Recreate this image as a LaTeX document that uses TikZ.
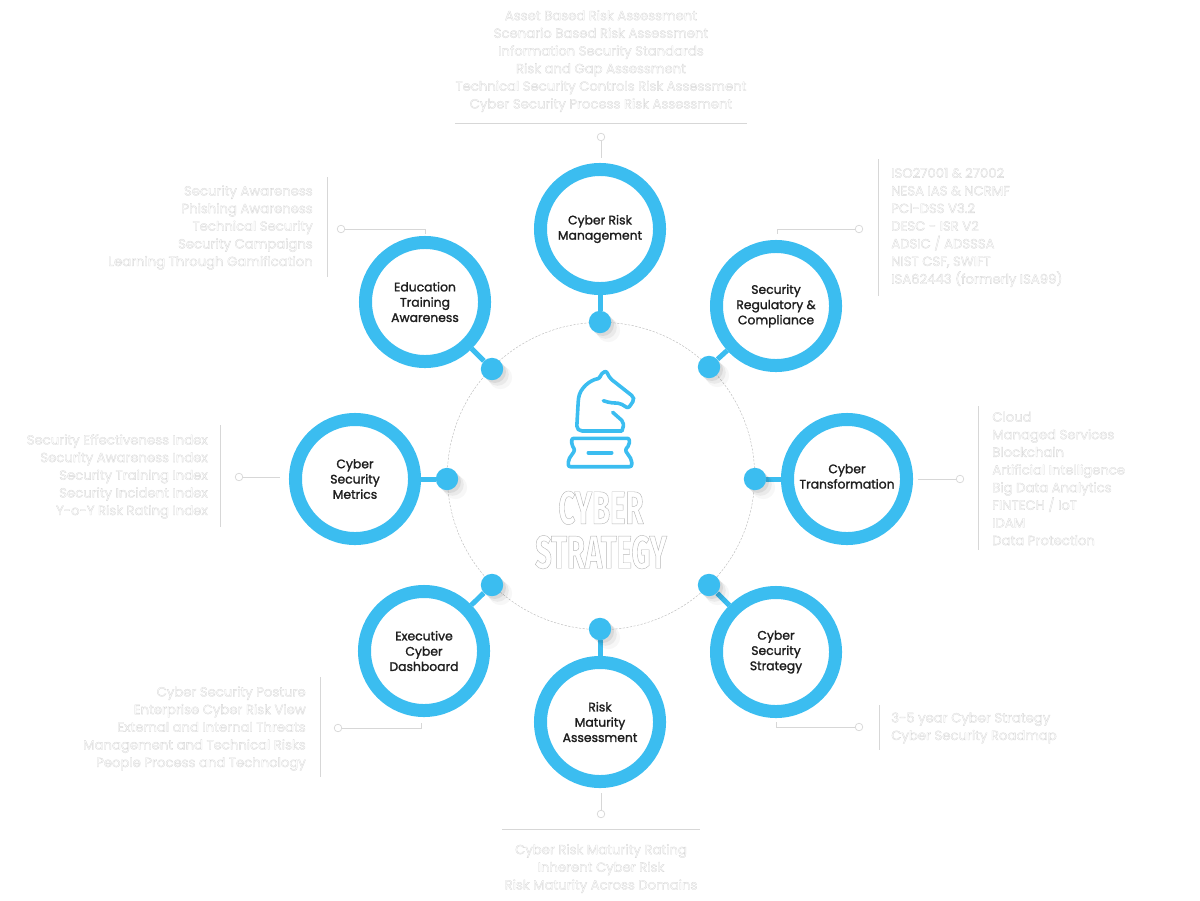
\documentclass[tikz,border=0pt]{standalone}
\usepackage{fontspec}
\setmainfont{Poppins}
\newfontfamily\titlefont[FakeStretch=0.63]{Fira Sans}
\usetikzlibrary{shapes.geometric, arrows.meta, positioning, calc, backgrounds, shadows}
\usepackage{xcolor}
\definecolor{hubblue}{RGB}{59,189,240}
\definecolor{hubtext}{RGB}{30,30,30}
\definecolor{leadgray}{RGB}{215,215,215}
% White text with a thin pale outline
\newcommand{\halotext}{\special{pdf:code q 2 Tr 0.22 w 0.84 0.84 0.84 RG}}
\newcommand{\haloend}{\special{pdf:code Q}}
% Slightly heavier ring labels
\newcommand{\hubweight}{\special{pdf:code q 2 Tr 0.14 w 0.12 0.12 0.12 RG}}
\tikzset{
  % Ring with the topic name
  hub/.style={
    circle, draw=hubblue, fill=white, line width=0.325cm, minimum size=2.975cm,
    inner sep=0pt, align=center, text=hubtext, font=\fontsize{8.8}{10.85}\selectfont
  },
  % Dot on the dashed orbit
  hubdot/.style={
    circle, fill=hubblue, minimum size=0.56cm, inner sep=0pt,
    drop shadow={shadow xshift=0.2cm, shadow yshift=-0.2cm, shadow scale=1.05, opacity=0.03, fill=black},
    drop shadow={shadow xshift=0.14cm, shadow yshift=-0.14cm, opacity=0.05, fill=black},
    drop shadow={shadow xshift=0.07cm, shadow yshift=-0.07cm, opacity=0.07, fill=black}
  },
  stem/.style={hubblue, line width=0.125cm},
  orbit/.style={
    circle, draw=gray!55, line width=0.3pt, dash pattern=on 1.6pt off 1pt,
    minimum size=7.68cm, inner sep=0pt
  },
  pin/.style={circle, draw=leadgray, fill=white, line width=0.5pt, minimum size=0.19cm, inner sep=0pt},
  leader/.style={leadgray, line width=0.7pt},
  rulebar/.style={leadgray, line width=0.6pt},
  itemlist/.style={
    inner sep=0pt, text=white, align=#1, font=\fontsize{9.4}{12.55}\selectfont
  },
  icon/.style={hubblue, line width=0.09cm, line join=round, line cap=round, rounded corners=1.5pt}
}
\begin{document}
\begin{tikzpicture}[x=0.025cm, y=-0.025cm]
  \useasboundingbox (0,0) rectangle (1200,900);

  % Dashed orbit
  \node[orbit] (centerorbit) at (601,476) {};

  % Rings
  \node[hub] (riskhub) at (600,229) {\hubweight Cyber Risk\\Management\haloend};
  \node[hub] (reghub) at (776,306) {\hubweight Security\\Regulatory \&\\Compliance\haloend};
  \node[hub] (transhub) at (847,479) {\hubweight Cyber\\Transformation\haloend\\[-7pt]\mbox{}};
  \node[hub] (strathub) at (776,652) {\hubweight Cyber\\Security\\Strategy\haloend};
  \node[hub] (maturityhub) at (600,722) {\hubweight Risk\\Maturity\\Assessment\haloend};
  \node[hub] (exechub) at (424,651) {\hubweight Executive\\Cyber\\Dashboard\haloend};
  \node[hub] (metricshub) at (355,479) {\hubweight Cyber\\Security\\Metrics\haloend};
  \node[hub] (eduhub) at (425,302) {\hubweight Education\\Training\\Awareness\haloend};

  % Dots
  \node[hubdot] (riskdot) at (600,322) {};
  \node[hubdot] (regdot) at (709,367) {};
  \node[hubdot] (transdot) at (755,479) {};
  \node[hubdot] (stratdot) at (709,585) {};
  \node[hubdot] (maturitydot) at (600,629) {};
  \node[hubdot] (execdot) at (492,585) {};
  \node[hubdot] (metricsdot) at (447,479) {};
  \node[hubdot] (edudot) at (492,369) {};

  % Stems
  \begin{scope}[on background layer]
    \draw[stem] (riskhub) -- (riskdot);
    \draw[stem] (reghub) -- (regdot);
    \draw[stem] (transhub) -- (transdot);
    \draw[stem] (strathub) -- (stratdot);
    \draw[stem] (maturityhub) -- (maturitydot);
    \draw[stem] (exechub) -- (execdot);
    \draw[stem] (metricshub) -- (metricsdot);
    \draw[stem] (eduhub) -- (edudot);
  \end{scope}

  % Leaders
  \node[pin] (riskpin) at (601,137) {};
  \node[pin] (regpin) at (859,229) {};
  \node[pin] (transpin) at (960,479) {};
  \node[pin] (stratpin) at (859,727) {};
  \node[pin] (maturitypin) at (601,814) {};
  \node[pin] (execpin) at (338,728) {};
  \node[pin] (metricspin) at (239,477) {};
  \node[pin] (edupin) at (341,229) {};

  \coordinate (riskend) at (601,158);
  \coordinate (regknee) at (777,229);
  \coordinate (regend) at (777,234);
  \coordinate (transend) at (918,479);
  \coordinate (stratknee) at (776,727);
  \coordinate (stratend) at (776,722);
  \coordinate (maturityend) at (601,793);
  \coordinate (execknee) at (421,728);
  \coordinate (execend) at (421,723);
  \coordinate (metricsend) at (280,477);
  \coordinate (eduknee) at (425,229);
  \coordinate (eduend) at (425,234);

  \draw[leader] (riskpin) -- (riskend);
  \draw[leader] (regpin) -- (regknee) -- (regend);
  \draw[leader] (transpin) -- (transend);
  \draw[leader] (stratpin) -- (stratknee) -- (stratend);
  \draw[leader] (maturitypin) -- (maturityend);
  \draw[leader] (execpin) -- (execknee) -- (execend);
  \draw[leader] (metricspin) -- (metricsend);
  \draw[leader] (edupin) -- (eduknee) -- (eduend);

  % Bars beside the lists
  \draw[rulebar] (455,123) -- (747,123);
  \draw[rulebar] (878,159) -- (878,296);
  \draw[rulebar] (978,406) -- (978,550);
  \draw[rulebar] (879,705) -- (879,750);
  \draw[rulebar] (502,829) -- (700,829);
  \draw[rulebar] (320,677) -- (320,777);
  \draw[rulebar] (220,425) -- (220,527);
  \draw[rulebar] (327,177) -- (327,277);

  % Lists
  \node[itemlist=center] (risklist) at (601,61) {\halotext Asset Based Risk Assessment\\Scenario Based Risk Assessment\\Information Security Standards\\Risk and Gap Assessment\\Technical Security Controls Risk Assessment\\Cyber Security Process Risk Assessment\haloend};
  \node[itemlist=left, anchor=west] (reglist) at (891,227.5) {\halotext ISO27001 \& 27002\\NESA IAS \& NCRMF\\PCI-DSS V3.2\\DESC - ISR V2\\ADSIC / ADSSSA\\NIST CSF, SWIFT\\ISA62443 (formerly ISA99)\haloend};
  \node[itemlist=left, anchor=west] (translist) at (992,478.5) {\halotext Cloud\\Managed Services\\Blockchain\\Artificial Intelligence\\Big Data Analytics\\FINTECH / IoT\\IDAM\\Data Protection\haloend};
  \node[itemlist=left, anchor=west] (stratlist) at (891,728) {\halotext 3-5 year Cyber Strategy\\Cyber Security Roadmap\haloend};
  \node[itemlist=center] (maturitylist) at (601,868.5) {\halotext Cyber Risk Maturity Rating\\Inherent Cyber Risk\\Risk Maturity Across Domains\haloend};
  \node[itemlist=right, anchor=east] (execlist) at (306,728.5) {\halotext Cyber Security Posture\\Enterprise Cyber Risk View\\External and Internal Threats\\Management and Technical Risks\\People Process and Technology\haloend};
  \node[itemlist=right, anchor=east] (metricslist) at (208,476.5) {\halotext Security Effectiveness Index\\Security Awareness Index\\Security Training Index\\Security Incident Index\\Y-o-Y Risk Rating Index\haloend};
  \node[itemlist=right, anchor=east] (edulist) at (313,227.5) {\halotext Security Awareness\\Phishing Awareness\\Technical Security\\Security Campaigns\\Learning Through Gamification\haloend};

  % Knight
  \draw[icon] (621.7,431) -- (580,431) -- (576.7,428) -- (578.3,400)
    .. controls (580,388) and (590,380) .. (600,378.3) -- (600,375) -- (606,370.7) -- (610,378.3)
    -- (633.3,396.7) -- (634,400) -- (628.3,408.3) -- (620,403.3) -- (610,402.7) -- (603.3,400.7);
  \draw[icon] (612.7,412.3) -- (623.3,421.7) -- (623.3,428.3) -- (621.7,431);
  \draw[icon] (571.7,438.3) -- (629.3,438.3) -- (629.3,445) -- (625,450) -- (631.7,460) -- (631.7,466.7)
    -- (568.3,466.7) -- (568.3,460) -- (575,450) -- (571.7,445) -- cycle;
  \draw[icon] (588.3,452.7) -- (611.7,452.7);

  % Title
  \node[inner sep=0pt, text=white, align=center, font=\titlefont\bfseries\fontsize{33}{31.5}\selectfont] (title) at (601,530)
    {\special{pdf:code q 2 Tr 0.3 w 0.72 0.72 0.72 RG}CYBER\\STRATEGY\haloend};
\end{tikzpicture}
\end{document}
